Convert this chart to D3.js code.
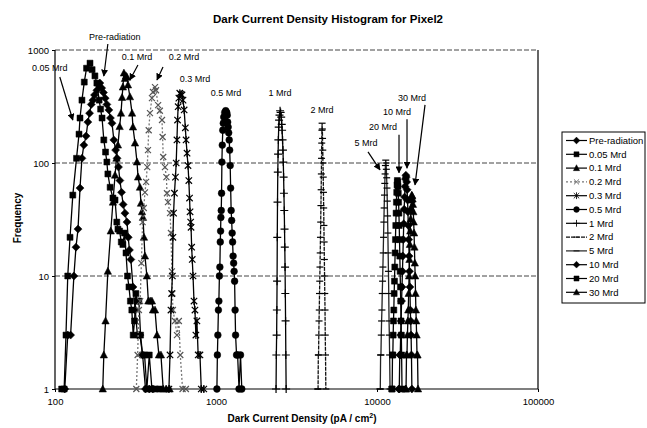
<!DOCTYPE html>
<html>
<head>
<meta charset="utf-8">
<script src="https://cdn.jsdelivr.net/npm/d3@7"></script>
<style>
  body { margin: 0; background: #fff; }
  svg { font-family: "Liberation Sans", Arial, sans-serif; }
</style>
</head>
<body>
<svg id="chart" width="647" height="428"></svg>
<script>
// histogram points: [dark current density (pA/cm2), frequency]
const preRadiation = [[115,1],[120,3],[125,3],[131,10],[135,18],[139,26],[143,60],[147,110],[151,144],[156,173],[160,230],[164,276],[168,330],[172,360],[176,400],[182,440],[186,490],[190,510],[195,460],[200,420],[205,375],[210,330],[216,295],[221,250],[226,225],[232,160],[238,130],[243,110],[248,92],[253,70],[259,55],[265,43],[272,36],[280,30],[285,22],[290,17],[296,14],[305,8],[315,5],[325,3],[337,3],[350,2],[365,1],[385,1],[405,1]];
const mrd005 = [[110,1],[114,1],[117,3],[120,10],[124,22],[129,52],[136,110],[141,180],[143,250],[147,360],[152,520],[157,690],[165,765],[170,670],[177,590],[182,510],[188,360],[192,300],[196,250],[201,160],[206,125],[210,102],[213,80],[220,61],[229,49],[236,47],[242,30],[246,26],[252,25],[258,20],[264,19],[270,24],[276,16],[282,10],[288,8],[294,6],[300,5],[306,3],[312,4],[318,7],[324,6],[332,6],[340,3],[350,2],[360,2],[372,1],[385,2],[400,1],[420,1],[445,1]];
const mrd01 = [[198,1],[201,2],[206,4],[213,11],[222,25],[229,45],[236,78],[241,110],[246,144],[252,210],[257,276],[261,380],[264,470],[268,625],[272,560],[276,590],[280,575],[284,490],[292,385],[301,276],[305,208],[314,150],[323,102],[328,75],[337,61],[342,44],[347,37],[352,33],[357,22],[362,15],[372,10],[380,6],[390,6],[400,6],[406,5],[418,5],[430,3],[442,2],[455,2],[470,1],[490,1],[515,1]];
const mrd02 = [[320,1],[326,2],[332,5],[338,6],[344,13],[350,30],[356,40],[362,55],[368,68],[374,92],[378,130],[382,195],[389,276],[400,375],[406,425],[418,470],[424,440],[437,325],[448,290],[462,240],[466,170],[470,113],[482,92],[492,75],[496,54],[503,45],[518,36],[525,24],[532,11],[536,7],[540,5],[556,4],[572,3],[588,4],[600,2],[620,1],[650,1]];
const mrd03 = [[510,1],[518,2],[525,5],[530,7],[536,10],[540,22],[545,36],[552,54],[560,75],[566,100],[572,160],[577,240],[582,315],[588,375],[596,415],[606,405],[615,400],[624,360],[634,295],[645,205],[652,160],[661,122],[670,95],[678,70],[685,49],[690,37],[696,30],[700,27],[706,18],[712,14],[720,10],[730,6],[740,5],[750,3],[761,4],[775,2],[795,2],[810,1],[840,1]];
const mrd05 = [[1013,1],[1020,2],[1027,3],[1035,5],[1042,6],[1050,10],[1057,12],[1063,20],[1068,25],[1072,33],[1078,38],[1083,54],[1088,102],[1094,144],[1102,195],[1110,225],[1117,255],[1133,280],[1149,290],[1166,280],[1174,265],[1182,230],[1190,208],[1199,185],[1208,160],[1216,130],[1225,95],[1233,60],[1242,38],[1251,31],[1260,24],[1268,20],[1277,15],[1287,13],[1296,11],[1305,9],[1314,5],[1323,3],[1342,2],[1362,2],[1390,1],[1420,2],[1446,1]];
const mrd1 = [[2360,1],[2370,2],[2380,3],[2388,5],[2395,9],[2402,22],[2410,45],[2420,83],[2430,120],[2440,160],[2452,208],[2465,240],[2480,265],[2500,290],[2520,280],[2540,255],[2560,220],[2574,195],[2590,160],[2605,130],[2618,102],[2630,75],[2642,54],[2655,38],[2665,26],[2675,18],[2685,12],[2695,7],[2705,4],[2715,2],[2727,1]];
const mrd2 = [[4290,1],[4305,1],[4320,2],[4335,2],[4350,3],[4365,4],[4380,5],[4395,7],[4410,9],[4425,12],[4440,16],[4455,22],[4470,30],[4485,42],[4500,58],[4512,80],[4524,110],[4536,150],[4548,195],[4560,225],[4575,200],[4590,165],[4605,130],[4620,100],[4635,75],[4650,55],[4665,40],[4680,28],[4695,20],[4710,14],[4725,10],[4740,7],[4755,5],[4770,3],[4790,2],[4810,1]];
const mrd5 = [[10430,1],[10480,1],[10530,2],[10580,2],[10630,3],[10680,4],[10730,5],[10780,7],[10830,9],[10880,12],[10930,16],[10980,22],[11030,30],[11080,40],[11130,52],[11180,66],[11230,80],[11280,95],[11330,106],[11380,100],[11430,88],[11480,74],[11530,60],[11580,46],[11630,34],[11680,24],[11730,16],[11780,11],[11830,7],[11880,4],[11930,3],[11980,2],[12050,1]];
const mrd10 = [[13650,1],[13750,1],[13850,2],[13940,2],[14030,3],[14120,4],[14210,6],[14300,8],[14390,11],[14480,15],[14570,21],[14660,29],[14750,39],[14840,50],[14930,62],[15020,72],[15110,78],[15200,75],[15290,68],[15380,58],[15470,47],[15560,37],[15650,28],[15740,21],[15830,15],[15920,11],[16010,8],[16100,5],[16190,4],[16280,3],[16370,2],[16470,1]];
const mrd20 = [[12350,1],[12420,1],[12480,2],[12540,2],[12600,3],[12660,4],[12720,5],[12780,7],[12840,9],[12900,12],[12960,16],[13020,21],[13080,28],[13140,36],[13200,45],[13260,55],[13320,64],[13380,70],[13440,68],[13500,62],[13560,54],[13620,45],[13680,36],[13740,28],[13800,21],[13860,15],[13920,11],[13980,8],[14040,6],[14100,4],[14160,3],[14220,2],[14300,1]];
const mrd30 = [[15050,1],[15150,1],[15250,2],[15350,2],[15450,3],[15550,4],[15640,5],[15730,7],[15820,10],[15910,14],[16000,19],[16090,25],[16180,32],[16270,40],[16360,47],[16450,52],[16540,51],[16630,48],[16720,43],[16810,37],[16900,30],[16990,24],[17080,18],[17170,13],[17260,10],[17350,7],[17440,5],[17530,4],[17620,3],[17720,2],[17850,2],[17980,1]];

const seriesNames = ['Pre-radiation', '0.05 Mrd', '0.1 Mrd', '0.2 Mrd', '0.3 Mrd', '0.5 Mrd',
  '1 Mrd', '2 Mrd', '5 Mrd', '10 Mrd', '20 Mrd', '30 Mrd'];
const seriesValues = [preRadiation, mrd005, mrd01, mrd02, mrd03, mrd05, mrd1, mrd2, mrd5, mrd10, mrd20, mrd30];

const xTicks = [100, 1000, 10000, 100000];
const yTicks = [1, 10, 100, 1000];

// callouts: label and the point [x, freq] it sits at / the arrow touches
const callouts = [
  { label: 'Pre-radiation', at: [201, 589], arrow: true },
  { label: '0.05 Mrd', at: [129, 240], arrow: true },
  { label: '0.1 Mrd', at: [292, 543], arrow: true },
  { label: '0.2 Mrd', at: [430, 543], arrow: true },
  { label: '0.3 Mrd', at: [741, 554], arrow: false },
  { label: '0.5 Mrd', at: [1153, 416], arrow: false },
  { label: '1 Mrd', at: [2497, 416], arrow: false },
  { label: '2 Mrd', at: [4552, 294], arrow: false },
  { label: '5 Mrd', at: [10440, 87], arrow: true },
  { label: '20 Mrd', at: [13700, 82], arrow: true },
  { label: '10 Mrd', at: [15360, 90], arrow: true },
  { label: '30 Mrd', at: [17220, 64], arrow: true }
];

// look of each series
const styles = [
  { marker: 'diamond', stroke: '#000' },
  { marker: 'square', stroke: '#000' },
  { marker: 'triangle', stroke: '#000' },
  { marker: 'x', stroke: '#777', dash: '2,2' },
  { marker: 'asterisk', stroke: '#000' },
  { marker: 'circle', stroke: '#000' },
  { marker: 'plus', stroke: '#000' },
  { marker: 'dash', stroke: '#111', dash: '4,1' },
  { marker: 'dash', stroke: '#222' },
  { marker: 'diamond', stroke: '#000' },
  { marker: 'square', stroke: '#000' },
  { marker: 'triangle', stroke: '#000' }
];
// text / arrow tail offsets (px) relative to the callout point
const calloutOffsets = [
  { tx: 11, ty: -36, ax: 4, ay: -32 },
  { tx: -23, ty: -49, ax: -13, ay: -43 },
  { tx: 7, ty: -20, ax: 8, ay: -15 },
  { tx: 27, ty: -20, ax: 6, ay: -13 },
  { tx: 0, ty: 3, ax: 0, ay: 0 },
  { tx: 0, ty: 3, ax: 0, ay: 0 },
  { tx: 0, ty: 3, ax: 0, ay: 0 },
  { tx: 0, ty: 3, ax: 0, ay: 0 },
  { tx: -14, ty: -24, ax: -12, ay: -18 },
  { tx: -16, ty: -43, ax: 0, ay: -38 },
  { tx: -10, ty: -53, ax: 0, ay: -49 },
  { tx: -3, ty: -84, ax: 10, ay: -80 }
];

const filled = new Set(['diamond', 'square', 'triangle', 'circle']);

function markerPath(type) {
  switch (type) {
    case 'diamond': return 'M0,-4L4,0L0,4L-4,0Z';
    case 'square': return 'M-3,-3H3V3H-3Z';
    case 'triangle': return 'M0,-4L3.7,3H-3.7Z';
    case 'x': return 'M-3,-3L3,3M-3,3L3,-3';
    case 'asterisk': return 'M-3.2,-3.2L3.2,3.2M-3.2,3.2L3.2,-3.2M0,-4V4';
    case 'circle': return d3.symbol(d3.symbolCircle, 36)();
    case 'plus': return 'M-4,0H4M0,-4V4';
    case 'dash': return 'M-3.5,0H3.5';
  }
}

const svg = d3.select('#chart');
const margin = { left: 55, right: 538, top: 50, bottom: 389 };

const x = d3.scaleLog().domain([100, 100000]).range([margin.left, margin.right]);
const y = d3.scaleLog().domain([1, 1000]).range([margin.bottom, margin.top]);

svg.append('defs').append('marker')
  .attr('id', 'head')
  .attr('viewBox', '0 0 10 10')
  .attr('refX', 9).attr('refY', 5)
  .attr('markerWidth', 7).attr('markerHeight', 7)
  .attr('markerUnits', 'userSpaceOnUse')
  .attr('orient', 'auto')
  .append('path')
  .attr('d', 'M0,0L10,5L0,10Z')
  .attr('fill', '#000');

// title
svg.append('text')
  .attr('x', 328).attr('y', 23)
  .attr('text-anchor', 'middle')
  .attr('font-size', 11.5).attr('font-weight', 'bold')
  .text('Dark Current Density Histogram for Pixel2');

// gridlines
svg.append('g')
  .selectAll('line')
  .data(yTicks.slice(1))
  .join('line')
  .attr('x1', margin.left).attr('x2', margin.right)
  .attr('y1', d => y(d)).attr('y2', d => y(d))
  .attr('stroke', '#444')
  .attr('stroke-dasharray', '5,2');

// frame
svg.append('path')
  .attr('d', `M${margin.left},${margin.top}V${margin.bottom}H${margin.right}V${margin.top}`)
  .attr('fill', 'none')
  .attr('stroke', '#000')
  .attr('stroke-width', 1.2);

// axes
const xAxis = svg.append('g')
  .attr('transform', `translate(0,${margin.bottom})`)
  .call(d3.axisBottom(x).tickValues(xTicks).tickFormat(d3.format('d')).tickSize(3));
const yAxis = svg.append('g')
  .attr('transform', `translate(${margin.left},0)`)
  .call(d3.axisLeft(y).tickValues(yTicks).tickFormat(d3.format('d')).tickSize(3));
[xAxis, yAxis].forEach(a => {
  a.select('.domain').remove();
  a.selectAll('text').attr('font-size', 9.5).attr('fill', '#000')
    .attr('font-family', '"Liberation Sans", Arial, sans-serif');
});
xAxis.selectAll('text').attr('dy', '1.1em');

const xTitle = svg.append('text')
  .attr('x', 302).attr('y', 422)
  .attr('text-anchor', 'middle')
  .attr('font-size', 10).attr('font-weight', 'bold');
xTitle.append('tspan').text('Dark Current Density (pA / cm');
xTitle.append('tspan').attr('dy', -4).attr('font-size', 7).text('2');
xTitle.append('tspan').attr('dy', 4).text(')');

svg.append('text')
  .attr('transform', 'translate(21,218) rotate(-90)')
  .attr('text-anchor', 'middle')
  .attr('font-size', 10).attr('font-weight', 'bold')
  .text('Frequency');

// series
const line = d3.line().x(d => x(d[0])).y(d => y(d[1]));
const plot = svg.append('g');

seriesValues.forEach((values, i) => {
  const s = styles[i];
  const g = plot.append('g');
  g.append('path')
    .datum(values)
    .attr('d', line)
    .attr('fill', 'none')
    .attr('stroke', s.stroke)
    .attr('stroke-width', 1.3)
    .attr('stroke-dasharray', s.dash || null);
  g.selectAll('path.mk')
    .data(values)
    .join('path')
    .attr('class', 'mk')
    .attr('transform', d => `translate(${x(d[0])},${y(d[1])})`)
    .attr('d', markerPath(s.marker))
    .attr('fill', filled.has(s.marker) ? '#000' : 'none')
    .attr('stroke', s.marker === 'x' ? '#555' : '#000')
    .attr('stroke-width', filled.has(s.marker) ? 0.5 : 1.2);
});

// callouts
const notes = svg.append('g');
callouts.forEach((c, i) => {
  const o = calloutOffsets[i];
  const px = x(c.at[0]), py = y(c.at[1]);
  notes.append('text')
    .attr('x', px + o.tx).attr('y', py + o.ty)
    .attr('text-anchor', 'middle')
    .attr('font-size', 9)
    .text(c.label);
  if (c.arrow) {
    notes.append('line')
      .attr('x1', px + o.ax).attr('y1', py + o.ay)
      .attr('x2', px).attr('y2', py)
      .attr('stroke', '#000')
      .attr('stroke-width', 1.2)
      .attr('marker-end', 'url(#head)');
  }
});

// legend
const legend = svg.append('g').attr('transform', 'translate(562,132)');
legend.append('rect')
  .attr('width', 83).attr('height', 171)
  .attr('fill', '#fff').attr('stroke', '#000');

const item = legend.selectAll('g.item')
  .data(seriesNames)
  .join('g')
  .attr('class', 'item')
  .attr('transform', (d, i) => `translate(0,${8.5 + i * 13.8})`);

item.append('line')
  .attr('x1', 4).attr('x2', 25)
  .attr('stroke', (d, i) => styles[i].stroke)
  .attr('stroke-width', 1.2)
  .attr('stroke-dasharray', (d, i) => styles[i].dash || null);
item.append('path')
  .attr('transform', 'translate(14.5,0) scale(0.85)')
  .attr('d', (d, i) => markerPath(styles[i].marker))
  .attr('fill', (d, i) => filled.has(styles[i].marker) ? '#000' : 'none')
  .attr('stroke', (d, i) => styles[i].marker === 'x' ? '#555' : '#000')
  .attr('stroke-width', (d, i) => filled.has(styles[i].marker) ? 0.5 : 1);
item.append('text')
  .attr('x', 27).attr('y', 3.3)
  .attr('font-size', 9.5)
  .text(d => d);
</script>
</body>
</html>
